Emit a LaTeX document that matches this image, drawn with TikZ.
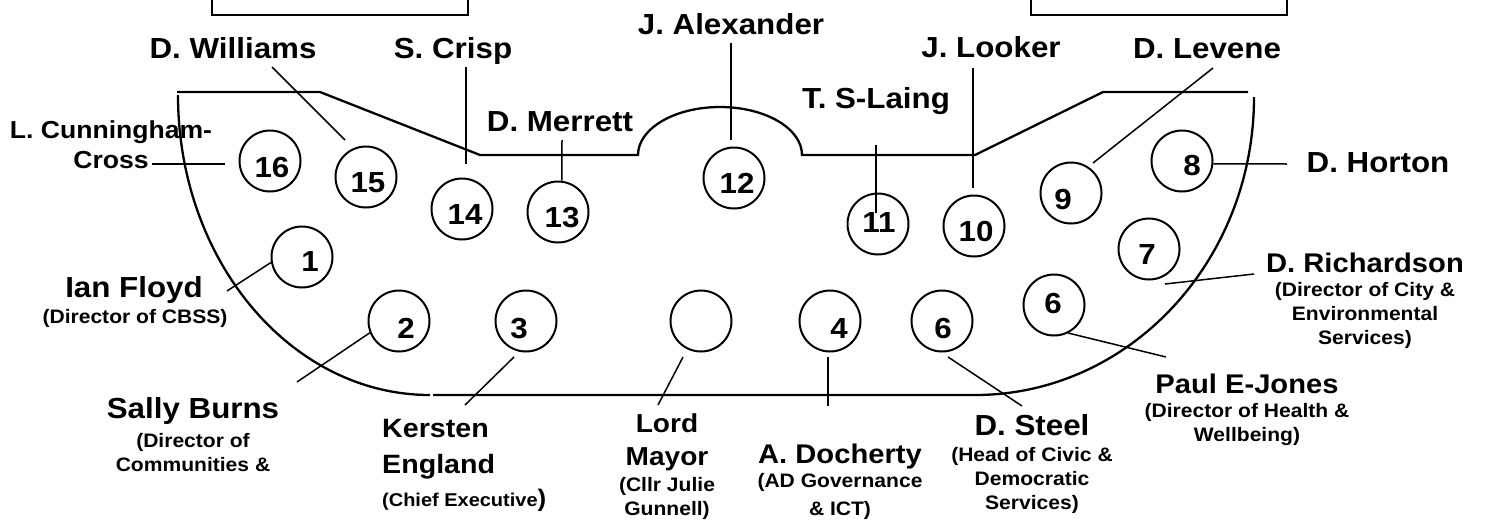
\documentclass[tikz,border=0pt]{standalone}
\usepackage{fontspec}
\setmainfont{Liberation Sans}[FakeStretch=1.08]

\newcommand{\namebig}{\fontsize{29}{33}\selectfont\bfseries}
\newcommand{\namemid}{\fontsize{27}{33}\selectfont\bfseries}
\newcommand{\rolefont}{\fontsize{19.5}{24}\selectfont\bfseries}

\tikzset{
    rim/.style={line width=2.3pt},
    frame/.style={line width=2pt},
    seat/.style={circle, draw, line width=2pt, minimum size=61pt, inner sep=0pt},
    num/.style={font=\namebig, inner sep=0pt},
    lead/.style={line width=1.5pt},
    who/.style={font=\namebig, inner sep=0pt, anchor=base},
    whomid/.style={font=\namemid, inner sep=0pt, anchor=base, align=center},
    role/.style={font=\rolefont, inner sep=0pt, anchor=base, align=center}
}

\begin{document}
\begin{tikzpicture}[x=1pt, y=-1pt]
    \useasboundingbox (0,0) rectangle (1488,520);
    \clip (0,0) rectangle (1488,520);

    % boxes cut off at the top
    \draw[frame] (212,-20) rectangle (468,15);
    \draw[frame] (1031,-20) rectangle (1287,15);

    % the table
    \draw[rim] (177,92) -- (320,92) -- (480,155) -- (638,155)
        arc[start angle=180, end angle=360, x radius=82, y radius=48]
        -- (975,155) -- (1103,92) -- (1248,92);
    \draw[rim] (178,95) arc[start angle=180, end angle=90, x radius=252, y radius=300];
    \draw[rim] (433,395) -- (975,395) arc[start angle=90, end angle=0, x radius=279, y radius=298];

    % seats
    \node[seat] (c16) at (270,161) {};
    \node[seat] (c15) at (366,177) {};
    \node[seat] (c14) at (462,209) {};
    \node[seat] (c13) at (558,212) {};
    \node[seat] (c12) at (734,178) {};
    \node[seat] (c11) at (878,224) {};
    \node[seat] (c10) at (974,226) {};
    \node[seat] (c9) at (1071,193) {};
    \node[seat] (c8) at (1182,161) {};
    \node[seat] (c7) at (1149,249) {};
    \node[seat] (c6r) at (1054,305) {};
    \node[seat] (c1) at (302,257) {};
    \node[seat] (c2) at (399,321) {};
    \node[seat] (c3) at (526,321) {};
    \node[seat] (cLM) at (701,321) {};
    \node[seat] (c4) at (830,321) {};
    \node[seat] (c6b) at (942,321) {};

    \node[num] (n16) at (272,168) {16};
    \node[num] (n15) at (368,183) {15};
    \node[num] (n14) at (465,215) {14};
    \node[num] (n13) at (562,218) {13};
    \node[num] (n12) at (737,183) {12};
    \node[num] (n11) at (879,223) {11};
    \node[num] (n10) at (976,232) {10};
    \node[num] (n9) at (1063,200) {9};
    \node[num] (n8) at (1192,166) {8};
    \node[num] (n7) at (1147,255) {7};
    \node[num] (n6r) at (1053,304) {6};
    \node[num] (n1) at (310,262) {1};
    \node[num] (n2) at (406,328) {2};
    \node[num] (n3) at (519,329) {3};
    \node[num] (n4) at (839,329) {4};
    \node[num] (n6b) at (943,329) {6};

    % names round the top
    \node[who] (w15) at (233,58) {D. Williams};
    \node[who] (w14) at (453,58) {S. Crisp};
    \node[who] (w13) at (560,131) {D. Merrett};
    \node[who] (w12) at (731,34) {J. Alexander};
    \node[who] (w11) at (876,108) {T. S-Laing};
    \node[who] (w10) at (991,57) {J. Looker};
    \node[who] (w9) at (1207,58) {D. Levene};
    \node[who] (w8) at (1378,172) {D. Horton};
    \node[who, font=\fontsize{24.6}{30}\selectfont\bfseries, align=center] (w16) at (111,168) {L. Cunningham-\\Cross};

    % names round the bottom (multi-line texts sit on their last line)
    \node[who] (w1) at (134,297) {Ian Floyd};
    \node[role] (r1) at (135,323) {(Director of CBSS)};
    \node[who] (w2) at (193,418) {Sally Burns};
    \node[role] (r2) at (193,471) {(Director of\\Communities \&};
    \node[whomid, font=\fontsize{26.5}{36}\selectfont\bfseries, anchor=base west, align=left] (w3) at (382,473) {Kersten\\England};
    \node[role, font=\fontsize{18.5}{22}\selectfont\bfseries, anchor=base west] (r3) at (382,506) {(Chief Executive{\fontsize{24}{26}\selectfont)}};
    \node[whomid, font=\fontsize{26}{33}\selectfont\bfseries] (wLM) at (667,465) {Lord\\Mayor};
    \node[role] (rLM) at (667,515) {(Cllr Julie\\Gunnell)};
    \node[whomid] (w4) at (840,463) {A. Docherty};
    \node[role, font=\fontsize{19.5}{28}\selectfont\bfseries] (r4) at (840,515) {(AD Governance\\\& ICT)};
    \node[who] (w6b) at (1032,435) {D. Steel};
    \node[role] (r6b) at (1032,509) {(Head of Civic \&\\Democratic\\Services)};
    \node[whomid] (w6r) at (1247,393) {Paul E-Jones};
    \node[role] (r6r) at (1247,441) {(Director of Health \&\\Wellbeing)};
    \node[whomid] (w7) at (1365,272) {D. Richardson};
    \node[role] (r7) at (1365,344) {(Director of City \&\\Environmental\\Services)};

    % leader lines
    \coordinate (t16) at (152,164);  \coordinate (e16) at (225,164);
    \coordinate (t15) at (272,67);   \coordinate (e15) at (345,140);
    \coordinate (t14) at (466,67);   \coordinate (e14) at (466,164);
    \coordinate (t13) at (562,140);
    \coordinate (t12) at (731,43);   \coordinate (e12) at (731,140);
    \coordinate (t11) at (876,145);  \coordinate (e11) at (876,213);
    \coordinate (t10) at (973,68);   \coordinate (e10) at (973,188);
    \coordinate (t9) at (1213,68);   \coordinate (e9) at (1093,163);
    \coordinate (t8) at (1287,164);
    \coordinate (t7) at (1254,274);  \coordinate (e7) at (1165,284);
    \coordinate (t6r) at (1166,357);
    \coordinate (t1) at (227,291);
    \coordinate (t2) at (297,382);
    \coordinate (t3) at (465,405);   \coordinate (e3) at (514,357);
    \coordinate (tLM) at (658,405);  \coordinate (eLM) at (683,357);
    \coordinate (t4) at (828,406);   \coordinate (e4) at (828,357);
    \coordinate (t6b) at (1022,406); \coordinate (e6b) at (948,357);

    \draw[lead] (t16) -- (e16);
    \draw[lead] (t15) -- (e15);
    \draw[lead] (t14) -- (e14);
    \draw[lead] (t13) -- (c13.83);
    \draw[lead] (t12) -- (e12);
    \draw[lead] (t11) -- (e11);
    \draw[lead] (t10) -- (e10);
    \draw[lead] (t9) -- (e9);
    \draw[lead] (c8.-5) -- (t8);
    \draw[lead] (t7) -- (e7);
    \draw[lead] (c6r.-63) -- (t6r);
    \draw[lead] (t1) -- (c1.190);
    \draw[lead] (t2) -- (c2.202);
    \draw[lead] (t3) -- (e3);
    \draw[lead] (tLM) -- (eLM);
    \draw[lead] (t4) -- (e4);
    \draw[lead] (e6b) -- (t6b);
\end{tikzpicture}
\end{document}
